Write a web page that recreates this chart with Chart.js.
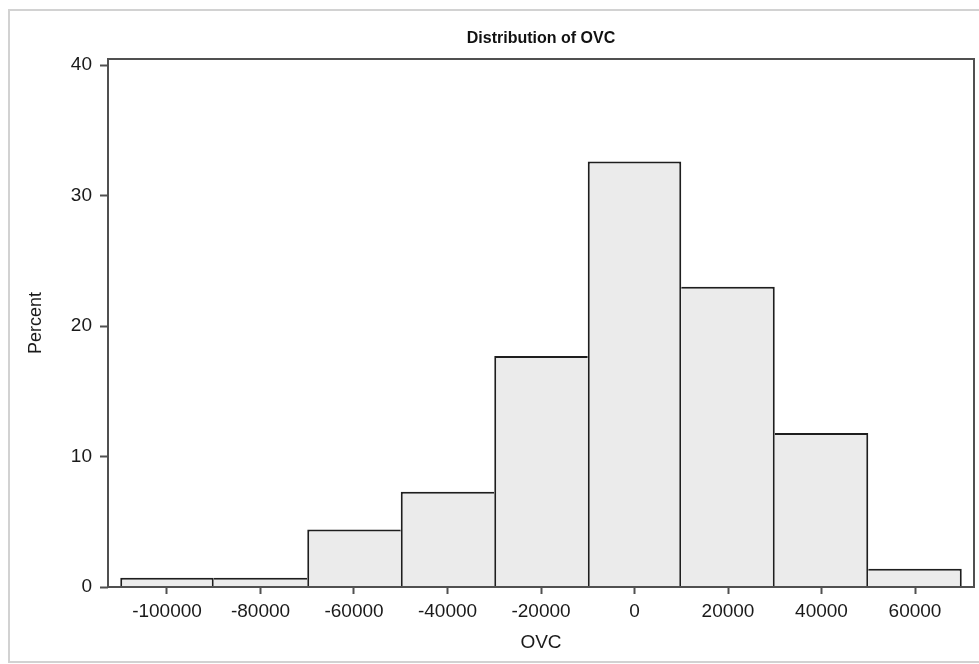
<!DOCTYPE html>
<html>
<head>
<meta charset="utf-8">
<script src="https://cdn.jsdelivr.net/npm/chart.js@4/dist/chart.umd.min.js"></script>
<style>
  html, body { margin: 0; padding: 0; background: #ffffff; }
  #wrap { position: relative; width: 979px; height: 664px; }
  canvas { display: block; }
</style>
</head>
<body>
<div id="wrap"><canvas id="c" width="979" height="664"></canvas></div>
<script>
// ---- data ----
const binCenters = [-100000, -80000, -60000, -40000, -20000, 0, 20000, 40000, 60000];
const percents   = [0.7, 0.7, 4.4, 7.3, 17.7, 32.6, 23.0, 11.8, 1.4];
const xTickValues = [-100000, -80000, -60000, -40000, -20000, 0, 20000, 40000, 60000];
const yTickValues = [0, 10, 20, 30, 40];
const chartTitle = 'Distribution of OVC';
const xAxisTitle = 'OVC';
const yAxisTitle = 'Percent';

const FONT = "'Liberation Sans', Arial, sans-serif";

const frames = {
  id: 'frames',
  beforeDraw(chart) {
    const ctx = chart.ctx;
    ctx.save();
    ctx.strokeStyle = '#d2d2d2';
    ctx.lineWidth = 2;
    ctx.strokeRect(9, 10, 990, 652);
    ctx.restore();
  },
  afterDatasetsDraw(chart) {
    const a = chart.chartArea;
    const ctx = chart.ctx;
    ctx.save();
    ctx.strokeStyle = '#505050';
    ctx.lineWidth = 2;
    ctx.strokeRect(a.left, a.top, a.right - a.left, a.bottom - a.top);
    ctx.restore();
  }
};

// shared edges between neighbouring bars are drawn once, by the taller bar
function edgeWidths(c) {
  const i = c.dataIndex;
  const v = c.dataset.data.map(d => d.y);
  const last = v.length - 1;
  return {
    top: 2,
    bottom: 0,
    left: (i === 0 || v[i - 1] < v[i]) ? 2 : 0,
    right: (i === last || v[i + 1] <= v[i]) ? 2 : 0
  };
}

new Chart(document.getElementById('c'), {
  type: 'bar',
  data: {
    datasets: [{
      data: binCenters.map((x, i) => ({ x: x, y: percents[i] })),
      backgroundColor: '#ebebeb',
      borderColor: '#1e1e1e',
      borderWidth: edgeWidths,
      borderSkipped: false,
      inflateAmount: 0,
      barPercentage: 1,
      categoryPercentage: 1
    }]
  },
  options: {
    responsive: false,
    animation: false,
    devicePixelRatio: 1,
    layout: { padding: { left: 0, right: 5, top: 0, bottom: 0 } },
    plugins: {
      legend: { display: false },
      tooltip: { enabled: false },
      title: {
        display: true,
        fullSize: false,
        text: chartTitle,
        color: '#111',
        font: { family: FONT, size: 16, weight: 'bold', lineHeight: 1.2 },
        padding: { top: 29, bottom: 10.8 }
      }
    },
    scales: {
      x: {
        type: 'linear',
        min: -112620,
        max: 72620,
        offset: false,
        afterFit: (s) => { s.height = 77; },
        afterBuildTicks: (s) => { s.ticks = xTickValues.map(v => ({ value: v })); },
        grid: { offset: false, drawOnChartArea: false, drawTicks: true, tickLength: 7, tickColor: '#505050', tickWidth: 2 },
        border: { display: false },
        ticks: {
          autoSkip: false,
          maxRotation: 0,
          padding: 6,
          color: '#1a1a1a',
          font: { family: FONT, size: 19 },
          callback: (v) => String(v)
        },
        title: {
          display: true,
          text: xAxisTitle,
          color: '#1a1a1a',
          font: { family: FONT, size: 19 },
          padding: { top: 0, bottom: 10 }
        }
      },
      y: {
        type: 'linear',
        min: 0,
        max: 40.46,
        afterFit: (s) => { s.width = 108; },
        afterBuildTicks: (s) => { s.ticks = yTickValues.map(v => ({ value: v })); },
        grid: { drawOnChartArea: false, drawTicks: true, tickLength: 8, tickColor: '#505050', tickWidth: 2 },
        border: { display: false },
        ticks: {
          padding: 8,
          color: '#1a1a1a',
          font: { family: FONT, size: 19 },
          callback: (v) => String(v)
        },
        title: {
          display: true,
          text: yAxisTitle,
          color: '#1a1a1a',
          font: { family: FONT, size: 18 },
          padding: { top: 25, bottom: 0 }
        }
      }
    }
  },
  plugins: [frames]
});
</script>
</body>
</html>
